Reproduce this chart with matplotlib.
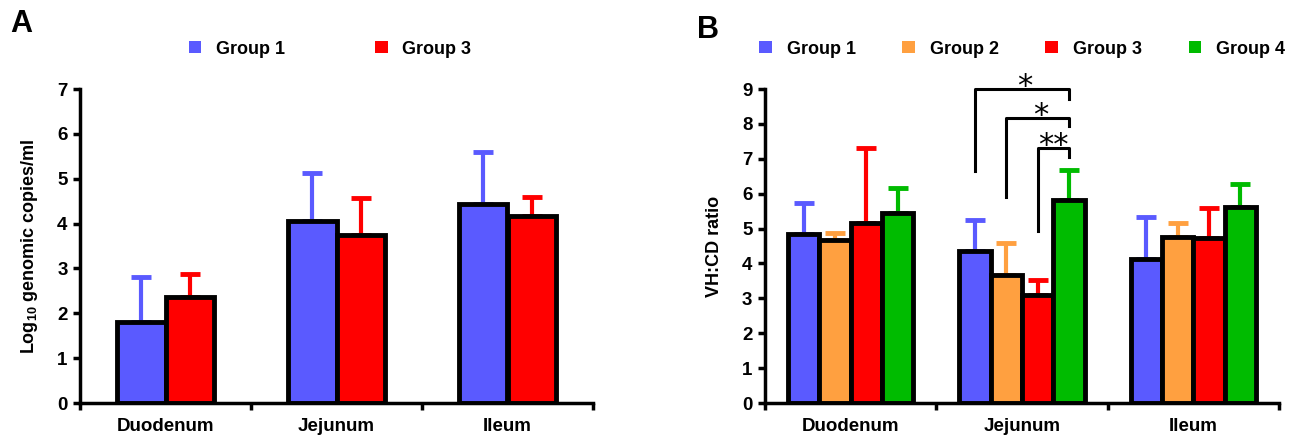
import matplotlib
matplotlib.use("Agg")
import matplotlib.pyplot as plt
from matplotlib.patches import Patch
import numpy as np

plt.rcParams['font.family'] = ['Liberation Sans', 'DejaVu Sans']
plt.rcParams['font.weight'] = 'bold'
plt.rcParams['mathtext.fontset'] = 'custom'
plt.rcParams['mathtext.rm'] = 'Liberation Sans:bold'
plt.rcParams['mathtext.bf'] = 'Liberation Sans:bold'

# ---- data ----
categories = ['Duodenum', 'Jejunum', 'Ileum']

a_groups = ['Group 1', 'Group 3']
a_means = {'Group 1': [1.80, 4.05, 4.43], 'Group 3': [2.37, 3.75, 4.17]}
a_err = {'Group 1': [1.02, 1.08, 1.17], 'Group 3': [0.50, 0.82, 0.43]}

b_groups = ['Group 1', 'Group 2', 'Group 3', 'Group 4']
b_means = {'Group 1': [4.83, 4.37, 4.12],
           'Group 2': [4.68, 3.67, 4.77],
           'Group 3': [5.15, 3.10, 4.73],
           'Group 4': [5.45, 5.83, 5.62]}
b_err = {'Group 1': [0.90, 0.88, 1.20],
         'Group 2': [0.20, 0.93, 0.38],
         'Group 3': [2.15, 0.42, 0.85],
         'Group 4': [0.72, 0.85, 0.65]}

colors = {'Group 1': '#5a5aff', 'Group 2': '#ffa040', 'Group 3': '#ff0000', 'Group 4': '#00bb00'}

# significance brackets in Jejunum
sig_from = ['Group 1', 'Group 2', 'Group 3']
sig_to = ['Group 4', 'Group 4', 'Group 4']
sig_y = [9.0, 8.17, 7.31]
sig_left_end = [6.66, 5.90, 4.92]
sig_right_end = [8.71, 7.93, 7.04]
sig_labels = ['*', '*', '**']

fig = plt.figure(figsize=(12.98, 4.36), dpi=100)
axA = fig.add_axes([80/1298, 1-403/436, (593-80)/1298, (403-89)/436])
axB = fig.add_axes([765/1298, 1-403/436, (1279-765)/1298, (403-89)/436])


def draw(ax, groups, means, errs, bar_w, ymax):
    n = len(groups)
    x = np.arange(len(categories)) + 0.5
    pos = {}
    for i, g in enumerate(groups):
        xi = x + (i - (n - 1) / 2) * bar_w
        pos[g] = xi
        ax.errorbar(xi, means[g], yerr=[np.zeros(len(categories)), errs[g]], fmt='none',
                    ecolor=colors[g], elinewidth=3, capsize=7, capthick=3.5, zorder=1)
        ax.bar(xi, means[g], width=bar_w, color=colors[g], edgecolor='black',
               linewidth=3.5, zorder=2)
    ax.set_xlim(0, len(categories))
    ax.set_ylim(0, ymax)
    ax.set_yticks(range(0, ymax + 1))
    ax.set_xticks(range(0, len(categories) + 1))
    ax.set_xticklabels([])
    ax.set_xticks(x, minor=True)
    ax.set_xticklabels(categories, minor=True, fontsize=13.5, fontweight='bold')
    ax.tick_params(axis='x', which='minor', length=0, pad=11)
    ax.tick_params(axis='x', which='major', length=5, width=2.5, direction='out')
    ax.tick_params(axis='y', length=5, width=2.5, direction='out', labelsize=13.5, pad=4)
    for lab in ax.get_yticklabels():
        lab.set_fontweight('bold')
    for s in ['top', 'right']:
        ax.spines[s].set_visible(False)
    for s in ['left', 'bottom']:
        ax.spines[s].set_linewidth(2.5)
    return pos


draw(axA, a_groups, a_means, a_err, 0.283, 7)
posB = draw(axB, b_groups, b_means, b_err, 0.183, 9)

axA.set_ylabel('Log$_{10}$ genomic copies/ml', fontsize=13, fontweight='bold', labelpad=12)
axB.set_ylabel('VH:CD ratio', fontsize=13, fontweight='bold', labelpad=14)

# significance brackets
j = categories.index('Jejunum')
for gf, gt, yb, yl, yr, lab in zip(sig_from, sig_to, sig_y, sig_left_end, sig_right_end, sig_labels):
    x1 = posB[gf][j]
    x2 = posB[gt][j]
    axB.plot([x1, x1, x2, x2], [yl, yb, yb, yr], color='black', lw=2.2, clip_on=False, zorder=3)
    axB.annotate(lab, xy=((x1 + x2) / 2, yb), xytext=(2 if lab == '*' else 0, -4),
                 textcoords='offset points', ha='center', va='baseline',
                 fontsize=22, fontweight='normal', family='DejaVu Sans', annotation_clip=False)

# legends
handlesA = [Patch(facecolor=colors[g], edgecolor='none', label=g) for g in a_groups]
fig.legend(handles=handlesA, loc='center', bbox_to_anchor=(330/1298, 1-49/436), ncol=2,
           frameon=False, handlelength=0.7, handleheight=0.7, handletextpad=0.8,
           columnspacing=5.0, prop={'size': 13, 'weight': 'bold'})
handlesB = [Patch(facecolor=colors[g], edgecolor='none', label=g) for g in b_groups]
fig.legend(handles=handlesB, loc='center', bbox_to_anchor=(1022/1298, 1-49/436), ncol=4,
           frameon=False, handlelength=0.7, handleheight=0.7, handletextpad=0.8,
           columnspacing=2.6, prop={'size': 13, 'weight': 'bold'})

fig.text(10/1298, 1-24/436, 'A', fontsize=22, fontweight='bold', va='center', ha='left')
fig.text(697/1298, 1-30/436, 'B', fontsize=22, fontweight='bold', va='center', ha='left')

fig.savefig('out.png', dpi=100)
